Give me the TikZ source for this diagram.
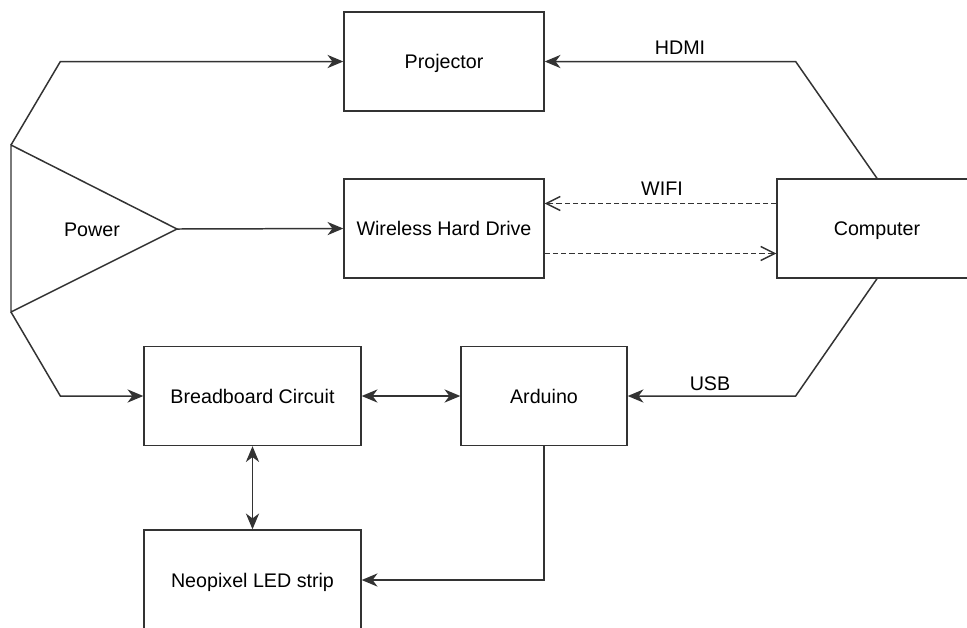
\documentclass[tikz,border=0pt]{standalone}
\usepackage{fontspec}
\setmainfont{Liberation Sans}
\usepackage{tikz}
\usetikzlibrary{arrows.meta}

\tikzset{
  box/.style={draw=black!80, line width=0.8pt, minimum width=4cm, minimum height=1.98cm},
  line/.style={draw=black!80, line width=0.85pt},
  tip/.style={Stealth[length=9pt,width=7.5pt,inset=2.8pt]},
  arr/.style={line, -{Stealth[length=9pt,width=7.5pt,inset=2.8pt]}},
  dblarr/.style={line, {Stealth[length=9pt,width=7.5pt,inset=2.8pt]}-{Stealth[length=9pt,width=7.5pt,inset=2.8pt]}},
  wifi/.style={line, dash pattern=on 3pt off 1.7pt, -{Straight Barb[length=8pt,width=8pt,line width=0.8pt]}},
  every node/.style={font=\fontsize{11.2}{13}\selectfont, text height=8pt, text depth=0pt}
}

\begin{document}
\begin{tikzpicture}[x=0.02cm, y=-0.02cm]
    \clip (0,0) rectangle (967,627);

    % Blocks
    \node[box] (projector) at (444,61.5) {Projector};
    \node[box] (wireless) at (444,228.5) {Wireless Hard Drive};
    \node[box] (computer) at (877,228.5) {Computer};
    \node[box, minimum width=4.34cm] (breadboard) at (252.5,396) {Breadboard Circuit};
    \node[box, minimum width=3.32cm] (arduino) at (544,396) {Arduino};
    \node[box, minimum width=4.34cm, minimum height=2cm] (neopixel) at (252.5,580) {Neopixel LED strip};

    % Power supply
    \coordinate (pwrtop) at (11,145);
    \coordinate (pwrbot) at (11,312);
    \coordinate (pwrtip) at (177,229);
    \draw[line, line join=miter] (pwrtop) -- (pwrtip) -- (pwrbot) -- cycle;
    \node (power) at (92,229) {Power};

    % Power lines
    \draw[arr] (pwrtop) -- ([xshift=-5.66cm]projector.west) -- (projector.west);
    \draw[arr] (pwrtip) -- (wireless.west);
    \draw[arr] (pwrbot) -- ([xshift=-1.66cm]breadboard.west) -- (breadboard.west);

    % Computer links
    \draw[arr] (computer.north) -- ([xshift=5.02cm]projector.east) -- (projector.east);
    \node (hdmi) at (680,47) {HDMI};
    \draw[wifi] ([yshift=0.5cm]computer.west) -- ([yshift=0.5cm]wireless.east);
    \draw[wifi] ([yshift=-0.5cm]wireless.east) -- ([yshift=-0.5cm]computer.west);
    \node (wifilabel) at (662,188) {WIFI};
    \draw[arr] (computer.south) -- ([xshift=3.36cm]arduino.east) -- (arduino.east);
    \node (usb) at (710,383) {USB};

    % Circuit
    \draw[dblarr] (breadboard.east) -- (arduino.west);
    \draw[dblarr] (breadboard.south) -- (neopixel.north);
    \draw[arr] (arduino.south) |- (neopixel.east);
\end{tikzpicture}
\end{document}
